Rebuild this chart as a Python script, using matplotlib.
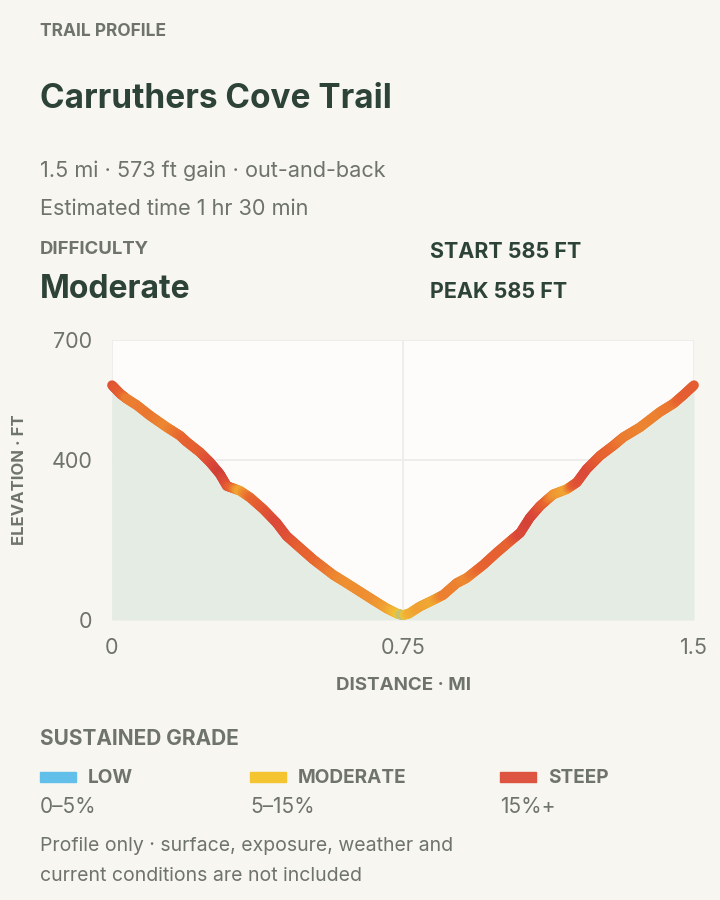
import numpy as np
import matplotlib.pyplot as plt
from matplotlib.collections import LineCollection
from matplotlib.colors import LinearSegmentedColormap

plt.rcParams['font.family'] = ['Inter', 'DejaVu Sans']

# profile (miles, feet)
distance_mi = [0.0, 0.021, 0.038, 0.064, 0.098, 0.141, 0.175, 0.193, 0.227, 0.253,
               0.278, 0.296, 0.330, 0.356, 0.390, 0.424, 0.450, 0.485, 0.519, 0.570,
               0.605, 0.639, 0.673, 0.708, 0.735, 0.75,
               0.765, 0.794, 0.828, 0.854, 0.888, 0.914, 0.957, 0.991, 1.026, 1.052,
               1.077, 1.103, 1.137, 1.172, 1.198, 1.223, 1.258, 1.292, 1.318, 1.361,
               1.412, 1.447, 1.472, 1.5]
elevation_ft = [587, 566, 553, 537, 511, 482, 461, 445, 419, 394,
                365, 335, 323, 306, 277, 243, 210, 180, 151, 113,
                92, 71, 50, 29, 16, 12,
                16, 34, 50, 63, 92, 105, 138, 168, 197, 218,
                256, 285, 314, 327, 344, 377, 411, 436, 457, 482,
                520, 541, 562, 587]

x_ticks = [0, 0.75, 1.5]
x_tick_labels = ['0', '0.75', '1.5']
y_ticks = [0, 400, 700]

legend_names = ['LOW', 'MODERATE', 'STEEP']
legend_ranges = ['0–5%', '5–15%', '15%+']
legend_colors = ['#62bfea', '#f4c431', '#dd5440']
legend_x = [40, 250, 500]

BG = '#f7f6f1'
DARK = '#2d4337'
GRAY = '#6e736b'

fig = plt.figure(figsize=(7.2, 9), dpi=100)
fig.patch.set_facecolor(BG)

# header text
fig.text(40/720, 1-32/900, 'TRAIL PROFILE', fontsize=12.5, fontweight='bold', color=GRAY, va='center')
fig.text(40/720, 1-99/900, 'Carruthers Cove Trail', fontsize=24, fontweight='bold', color=DARK, va='center')
fig.text(40/720, 1-171/900, '1.5 mi · 573 ft gain · out-and-back', fontsize=15.6, color=GRAY, va='center')
fig.text(40/720, 1-209/900, 'Estimated time 1 hr 30 min', fontsize=15.6, color=GRAY, va='center')
fig.text(40/720, 1-249/900, 'DIFFICULTY', fontsize=13.3, fontweight='bold', color=GRAY, va='center')
fig.text(40/720, 1-289/900, 'Moderate', fontsize=23, fontweight='bold', color=DARK, va='center')
fig.text(430/720, 1-252/900, 'START 585 FT', fontsize=15.5, fontweight='bold', color=DARK, va='center')
fig.text(430/720, 1-292/900, 'PEAK 585 FT', fontsize=15.5, fontweight='bold', color=DARK, va='center')

# chart
ax = fig.add_axes([112/720, 1-620/900, 582/720, 280/900])
ax.set_facecolor('#fdfcfa')
ax.set_xlim(0, 1.5)
ax.set_ylim(0, 700)
for s in ax.spines.values():
    s.set_visible(False)
ax.set_xticks(x_ticks)
ax.set_xticklabels(x_tick_labels)
ax.set_yticks(y_ticks)
ax.tick_params(length=0, labelsize=15.5, colors=GRAY)
ax.tick_params(axis='y', pad=14)
ax.tick_params(axis='x', pad=13)
ax.grid(True, color='#ebebe8', linewidth=1.2)
ax.set_axisbelow(True)

d = np.array(distance_mi)
e = np.array(elevation_ft, dtype=float)
ax.fill_between(d, e, 0, color='#e4ece4', zorder=1, linewidth=0)

# grade per segment and per vertex
seg_grade = np.abs(np.diff(e)) / (np.diff(d) * 5280) * 100
vert_grade = np.empty(len(e))
vert_grade[0] = seg_grade[0]
vert_grade[-1] = seg_grade[-1]
vert_grade[1:-1] = (seg_grade[:-1] + seg_grade[1:]) / 2

cmap = LinearSegmentedColormap.from_list('grade', [
    (0.0, '#96c2ac'), (0.15, '#a9c29a'), (0.22, '#f2c234'), (0.34, '#f0a032'),
    (0.5, '#e8652f'), (0.7, '#dc4a38'), (1.0, '#c93a34')])

segs = []
cols = []
for i in range(len(d) - 1):
    n = 8
    t = np.linspace(0, 1, n + 1)
    xs = d[i] + (d[i+1] - d[i]) * t
    ys = e[i] + (e[i+1] - e[i]) * t
    gs = vert_grade[i] + (vert_grade[i+1] - vert_grade[i]) * t
    for k in range(n):
        segs.append([(xs[k], ys[k]), (xs[k+1], ys[k+1])])
        cols.append(cmap(np.clip((gs[k] + gs[k+1]) / 2 / 30.0, 0, 1)))
lc = LineCollection(segs, colors=cols, linewidths=7, capstyle='round', zorder=3)
lc.set_clip_on(False)
ax.add_collection(lc)

ax.set_ylabel('ELEVATION · FT', fontsize=12, fontweight='bold', color=GRAY, labelpad=18)
ax.set_xlabel('DISTANCE · MI', fontsize=13.5, fontweight='bold', color=GRAY, labelpad=14)

# legend
fig.text(40/720, 1-739/900, 'SUSTAINED GRADE', fontsize=15, fontweight='bold', color=GRAY, va='center')
for name, rng, c, x0 in zip(legend_names, legend_ranges, legend_colors, legend_x):
    fig.patches.append(plt.Rectangle((x0/720, 1-782/900), 36/720, 10/900,
                                     transform=fig.transFigure, color=c))
    fig.text((x0 + 48)/720, 1-778/900, name, fontsize=13.7, fontweight='bold', color=GRAY, va='center')
    fig.text(x0/720, 1-807/900, rng, fontsize=15, color=GRAY, va='center')

fig.text(40/720, 1-846/900, 'Profile only · surface, exposure, weather and', fontsize=14, color=GRAY, va='center')
fig.text(40/720, 1-876/900, 'current conditions are not included', fontsize=14, color=GRAY, va='center')

fig.savefig('out.png', dpi=100, facecolor=BG)
